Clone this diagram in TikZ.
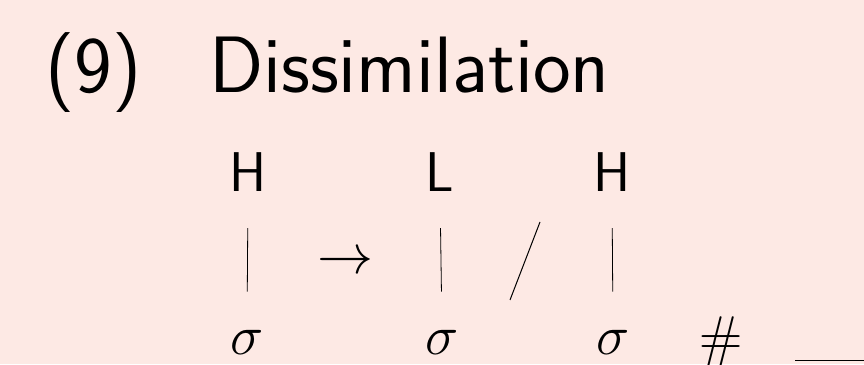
\RequirePackage{fix-cm}
\documentclass[tikz,border=0pt]{standalone}
\usepackage{amsmath,amssymb}
\usepackage{tikz}
\usetikzlibrary{positioning}
\definecolor{slidebg}{RGB}{253,233,228}

\tikzset{
  tier/.style={inner sep=0pt, anchor=base, font=\fontsize{56}{60}\selectfont\sffamily},
  headline/.style={inner sep=0pt, anchor=base west, font=\fontsize{80}{90}\selectfont\sffamily},
  assoc/.style={line width=0.8pt, shorten <=36pt, shorten >=38pt}
}

\begin{document}
\begin{tikzpicture}[x=1pt,y=1pt]
  \fill[slidebg] (0,0) rectangle (864,364);
  \useasboundingbox (0,0) rectangle (864,364);

  \node[headline] (num) at (45,271) {(9)};
  \node[headline] (title) at (209,271) {Dissimilation};

  \node[tier] (h1) at (248,172) {H};
  \node[tier] (l2) at (440,172) {L};
  \node[tier] (h3) at (612,172) {H};

  \node[tier] (s1) at (247,10) {$\sigma$};
  \node[tier] (s2) at (442,10) {$\sigma$};
  \node[tier] (s3) at (613,10) {$\sigma$};

  \node[tier] (arr) at (345,90) {$\rightarrow$};
  \node[tier] (hash) at (721,9) {$\#$};
  \node[tier, anchor=base west] (gap) at (795,9) {\rule[-6pt]{100pt}{1.3pt}};

  \draw[assoc] (h1.south) -- (s1.north);
  \draw[assoc] (l2.south) -- (s2.north);
  \draw[assoc] (h3.south) -- (s3.north);

  % slash between the two contexts
  \draw[line width=1pt] (540,142) -- (510,64);
\end{tikzpicture}
\end{document}
